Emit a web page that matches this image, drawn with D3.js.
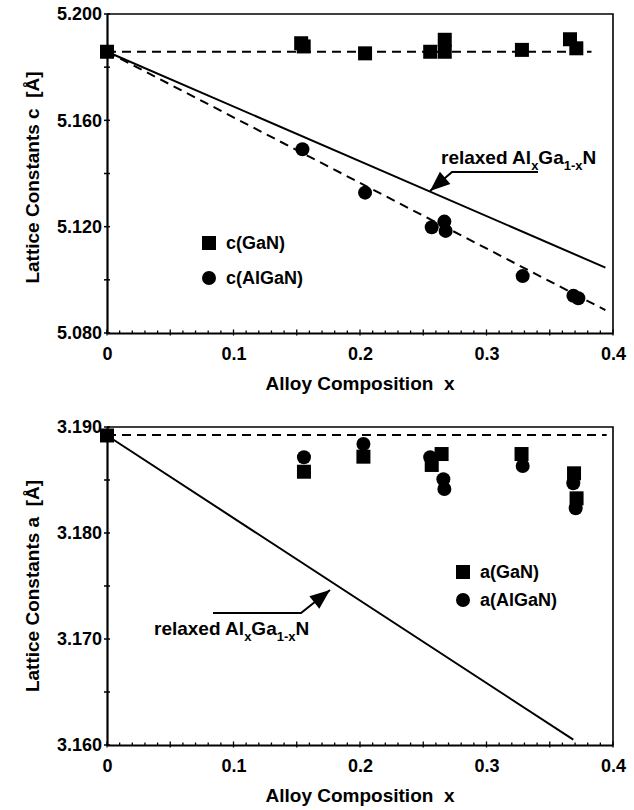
<!DOCTYPE html>
<html><head><meta charset="utf-8">
<script src="https://cdn.jsdelivr.net/npm/d3@7"></script>
<style>
body{margin:0;background:#fff;}
text{font-family:"Liberation Sans",Arial,Helvetica,sans-serif;font-weight:bold;fill:#000;}
</style></head>
<body><svg id="chart" width="634" height="810"></svg>
<script>
// ---------------- data ----------------
const xTicks = [0, 0.1, 0.2, 0.3, 0.4];
const cTicks = [5.080, 5.120, 5.160, 5.200];
const aTicks = [3.160, 3.170, 3.180, 3.190];

// top panel: c lattice constant
const cGaN_x = [0, 0.1535, 0.1555, 0.204, 0.2555, 0.267, 0.267, 0.328, 0.366, 0.371];
const cGaN_y = [5.1858, 5.1890, 5.1878, 5.1852, 5.1858, 5.1903, 5.1858, 5.1865, 5.1905, 5.1871];
const cAlGaN_x = [0.1545, 0.204, 0.2567, 0.2667, 0.2677, 0.3286, 0.3687, 0.3726];
const cAlGaN_y = [5.1491, 5.1328, 5.1198, 5.1219, 5.1184, 5.1014, 5.0940, 5.0931];
const cRelaxed_x = [0, 0.394];
const cRelaxed_y = [5.1858, 5.1046];
const cFit_x = [0, 0.394];
const cFit_y = [5.1858, 5.0886];
const cGaNLine_x = [0, 0.383];
const cGaNLine_y = [5.1858, 5.1858];

// bottom panel: a lattice constant
const aGaN_x = [0, 0.1557, 0.2027, 0.2567, 0.2645, 0.3277, 0.3692, 0.3712];
const aGaN_y = [3.1892, 3.18578, 3.1872, 3.18642, 3.18745, 3.18745, 3.18563, 3.18327];
const aAlGaN_x = [0.1557, 0.2027, 0.2555, 0.2659, 0.2667, 0.3286, 0.3686, 0.3705];
const aAlGaN_y = [3.18714, 3.1884, 3.18714, 3.18507, 3.18415, 3.18632, 3.18469, 3.18233];
const aRelaxed_x = [0, 0.3686];
const aRelaxed_y = [3.1892, 3.1605];
const aGaNLine_x = [0, 0.395];
const aGaNLine_y = [3.18925, 3.18925];

// ---------------- drawing ----------------
const svg = d3.select("#chart");
const L = 107, R = 613;
const x = d3.scaleLinear().domain([0, 0.4]).range([L, R]);

function zip(xs, ys){ return xs.map((v,i)=>[v, ys[i]]); }

function panel(cfg){
  const y = d3.scaleLinear().domain(cfg.ydom).range([cfg.bottom, cfg.top]);
  const g = svg.append("g");

  // frame top/right
  g.append("path").attr("d", `M${L},${cfg.top}H${R}V${cfg.bottom}`)
    .attr("fill","none").attr("stroke","#000").attr("stroke-width",1.6);

  // minor ticks x
  const xm = d3.range(0, 0.4001, 0.01);
  g.selectAll(".xm").data(xm).enter().append("line")
    .attr("x1", d=>x(d)).attr("x2", d=>x(d))
    .attr("y1", d=> cfg.bottom + (Math.abs(d/0.05 - Math.round(d/0.05))<1e-6 ? 2.5 : 1))
    .attr("y2", d=> cfg.bottom - (Math.abs(d/0.05 - Math.round(d/0.05))<1e-6 ? 3.5 : 2.5))
    .attr("stroke","#000").attr("stroke-width",1.3);
  // minor ticks y
  const ym = d3.range(cfg.ydom[0], cfg.ydom[1]+1e-9, cfg.ystep);
  g.selectAll(".ym").data(ym).enter().append("line")
    .attr("y1", d=>y(d)).attr("y2", d=>y(d))
    .attr("x1", L-3).attr("x2", L+3)
    .attr("stroke","#000").attr("stroke-width",1.5);

  // axes
  const xa = d3.axisBottom(x).tickValues(xTicks).tickSize(0).tickPadding(14)
    .tickFormat(d => d===0 ? "0" : d3.format(".1f")(d));
  const gx = g.append("g").attr("transform",`translate(0,${cfg.bottom})`).call(xa);
  gx.select(".domain").attr("stroke","#000").attr("stroke-width",2.2);
  gx.selectAll("text").style("font-size","18px").attr("fill","#000");

  const ya = d3.axisLeft(y).tickValues(cfg.yticks).tickSize(0).tickPadding(5)
    .tickFormat(d3.format(".3f"));
  const gy = g.append("g").attr("transform",`translate(${L},0)`).call(ya);
  gy.select(".domain").attr("stroke","#000").attr("stroke-width",2.2);
  gy.selectAll("text").style("font-size","18px").attr("fill","#000");

  // axis titles
  g.append("text").attr("x", 360).attr("y", cfg.bottom + 57)
    .attr("text-anchor","middle").style("font-size","19px").style("white-space","pre")
    .text("Alloy Composition  x");
  g.append("text")
    .attr("transform", `translate(39,${(cfg.top+cfg.bottom)/2 + cfg.ytitleShift}) rotate(-90)`)
    .attr("text-anchor","middle").style("font-size","19px").style("white-space","pre")
    .text(cfg.ytitle);

  const line = d3.line().x(d=>x(d[0])).y(d=>y(d[1]));
  cfg.lines.forEach(l=>{
    g.append("path").attr("d", line(zip(l.x, l.y)))
      .attr("fill","none").attr("stroke","#000").attr("stroke-width", 2)
      .attr("stroke-dasharray", l.dash ? "9,6" : null);
  });

  // markers
  const S = 14, Rr = 7;
  g.selectAll(".sq").data(zip(cfg.sqx, cfg.sqy)).enter().append("rect")
    .attr("x", d=>x(d[0])-S/2).attr("y", d=>y(d[1])-S/2)
    .attr("width", S).attr("height", S).attr("fill","#000");
  g.selectAll(".ci").data(zip(cfg.cix, cfg.ciy)).enter().append("circle")
    .attr("cx", d=>x(d[0])).attr("cy", d=>y(d[1])).attr("r", Rr).attr("fill","#000");

  // legend
  const lg = cfg.legend;
  g.append("rect").attr("x", lg.x-S/2).attr("y", lg.y1-S/2).attr("width",S).attr("height",S).attr("fill","#000");
  g.append("circle").attr("cx", lg.x).attr("cy", lg.y2).attr("r", Rr).attr("fill","#000");
  g.append("text").attr("x", lg.x+17).attr("y", lg.y1).attr("dy","0.36em").style("font-size","18px").text(lg.t1);
  g.append("text").attr("x", lg.x+17).attr("y", lg.y2).attr("dy","0.36em").style("font-size","18px").text(lg.t2);

  // annotation
  const an = cfg.ann;
  const t = g.append("text").attr("x", an.tx).attr("y", an.ty).style("font-size","19px");
  t.append("tspan").text("relaxed Al");
  t.append("tspan").attr("dy", 6).style("font-size","13px").text("x");
  t.append("tspan").attr("dy", -6).text("Ga");
  t.append("tspan").attr("dy", 6).style("font-size","13px").text("1-x");
  t.append("tspan").attr("dy", -6).text("N");
  g.append("path").attr("d", `M${an.p[0][0]},${an.p[0][1]}L${an.p[1][0]},${an.p[1][1]}L${an.p[2][0]},${an.p[2][1]}`)
    .attr("fill","none").attr("stroke","#000").attr("stroke-width",2);
  // arrowhead
  const [bx,by] = an.p[1], [tx,ty] = an.p[2];
  const ang = Math.atan2(ty-by, tx-bx), hl = 20, hw = 8;
  const cx0 = tx - hl*Math.cos(ang), cy0 = ty - hl*Math.sin(ang);
  const px = -Math.sin(ang)*hw, py = Math.cos(ang)*hw;
  g.append("path").attr("d", `M${tx},${ty}L${cx0+px},${cy0+py}L${cx0-px},${cy0-py}Z`).attr("fill","#000");
}

panel({
  top: 14, bottom: 333, ydom: [5.080, 5.200], yticks: cTicks, ystep: 0.02,
  ytitle: "Lattice Constants c  [Å]", ytitleShift: 4,
  lines: [
    {x: cGaNLine_x, y: cGaNLine_y, dash: true},
    {x: cFit_x, y: cFit_y, dash: true},
    {x: cRelaxed_x, y: cRelaxed_y, dash: false}
  ],
  sqx: cGaN_x, sqy: cGaN_y, cix: cAlGaN_x, ciy: cAlGaN_y,
  legend: {x: 209, y1: 243, y2: 278, t1: "c(GaN)", t2: "c(AlGaN)"},
  ann: {tx: 441, ty: 164, p: [[538,172],[452,172],[430,191]]}
});

panel({
  top: 427, bottom: 745, ydom: [3.160, 3.190], yticks: aTicks, ystep: 0.005,
  ytitle: "Lattice Constants a  [Å]", ytitleShift: 0,
  lines: [
    {x: aGaNLine_x, y: aGaNLine_y, dash: true},
    {x: aRelaxed_x, y: aRelaxed_y, dash: false}
  ],
  sqx: aGaN_x, sqy: aGaN_y, cix: aAlGaN_x, ciy: aAlGaN_y,
  legend: {x: 463, y1: 572, y2: 600, t1: "a(GaN)", t2: "a(AlGaN)"},
  ann: {tx: 154, ty: 635, p: [[213,613],[301,613],[330,590]]}
});
</script></body></html>
